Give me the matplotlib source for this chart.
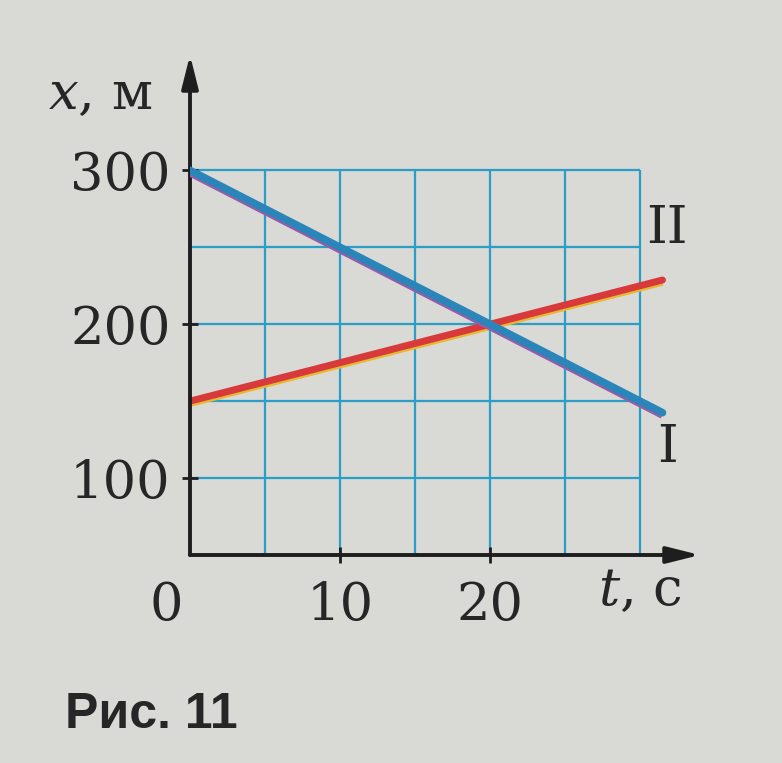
import matplotlib
matplotlib.use("Agg")
import matplotlib.pyplot as plt
import numpy as np

# data
t_line = [0, 31.5]
x_I = [300, 300 - 5 * 31.5]      # body I: 300 -> 142.5
x_II = [150, 150 + 2.5 * 31.5]   # body II: 150 -> 228.75
grid_t = [5, 10, 15, 20, 25, 30]
grid_x = [100, 150, 200, 250, 300]
xtick_vals = [10, 20]
ytick_vals = [100, 200, 300]

plt.rcParams["mathtext.fontset"] = "dejavuserif"

bg = "#d9d9d6"
gridc = "#2a9ec6"
txtc = "#262626"
serif = "DejaVu Serif"
fs = 38

fig = plt.figure(figsize=(7.82, 7.63), dpi=100, facecolor=bg)
ax = fig.add_axes([190 / 782, 1 - 555 / 763, 510 / 782, 500 / 763])
ax.set_facecolor(bg)
ax.set_xlim(0, 34)
ax.set_ylim(50, 375)
for s in ax.spines.values():
    s.set_visible(False)

# grid
ax.vlines(grid_t, 50, 300, colors=gridc, lw=1.6, zorder=1)
ax.hlines(grid_x, 0, 30, colors=gridc, lw=1.6, zorder=1)

# lines (with slight print fringes)
ax.plot(np.array(t_line), np.array(x_II) - 1.5, color="#e8b830", lw=5, solid_capstyle="butt", zorder=2)
ax.plot(t_line, x_II, color="#d83a3c", lw=5, solid_capstyle="round", zorder=3)
ax.plot(np.array(t_line), np.array(x_I) - 1.5, color="#9a5aa8", lw=5.5, solid_capstyle="butt", zorder=4)
ax.plot(t_line, x_I, color="#2a86b8", lw=5.5, solid_capstyle="round", zorder=5)

# axes arrows
arrow = dict(arrowstyle="-|>,head_length=2.0,head_width=0.5", color="#1e1e1e", lw=2.8, shrinkA=0, shrinkB=0)
ax.annotate("", xy=(34, 50), xytext=(0, 50), arrowprops=arrow, annotation_clip=False)
ax.annotate("", xy=(0, 375), xytext=(0, 50), arrowprops=arrow, annotation_clip=False)

# ticks
ax.set_xticks(xtick_vals)
ax.set_xticklabels([str(v) for v in xtick_vals], fontsize=fs, family=serif, color=txtc)
ax.set_yticks(ytick_vals)
ax.set_yticklabels([str(v) for v in ytick_vals], fontsize=fs, family=serif, color=txtc)
ax.tick_params(axis="both", direction="inout", length=12, width=2, color="#1e1e1e")
ax.tick_params(axis="x", pad=12)
ax.tick_params(axis="y", pad=8)

# texts
ax.text(-1.6, 17, "0", fontsize=fs, family=serif, color=txtc, ha="center", va="center")
ax.text(30, 27, "$t$, с", fontsize=fs, family=serif, color=txtc, ha="center", va="center")
ax.text(-6, 349, "$x$, м", fontsize=fs, family=serif, color=txtc, ha="center", va="center")
ax.text(31.8, 262, "II", fontsize=fs, family=serif, color=txtc, ha="center", va="center")
ax.text(31.8, 120, "I", fontsize=fs, family=serif, color=txtc, ha="center", va="center")

fig.text(65 / 782, 1 - 715 / 763, "Рис. 11", fontsize=36, family="Liberation Sans", weight="bold",
         color=txtc, ha="left", va="center")

fig.savefig("out.png", dpi=100, facecolor=bg)
